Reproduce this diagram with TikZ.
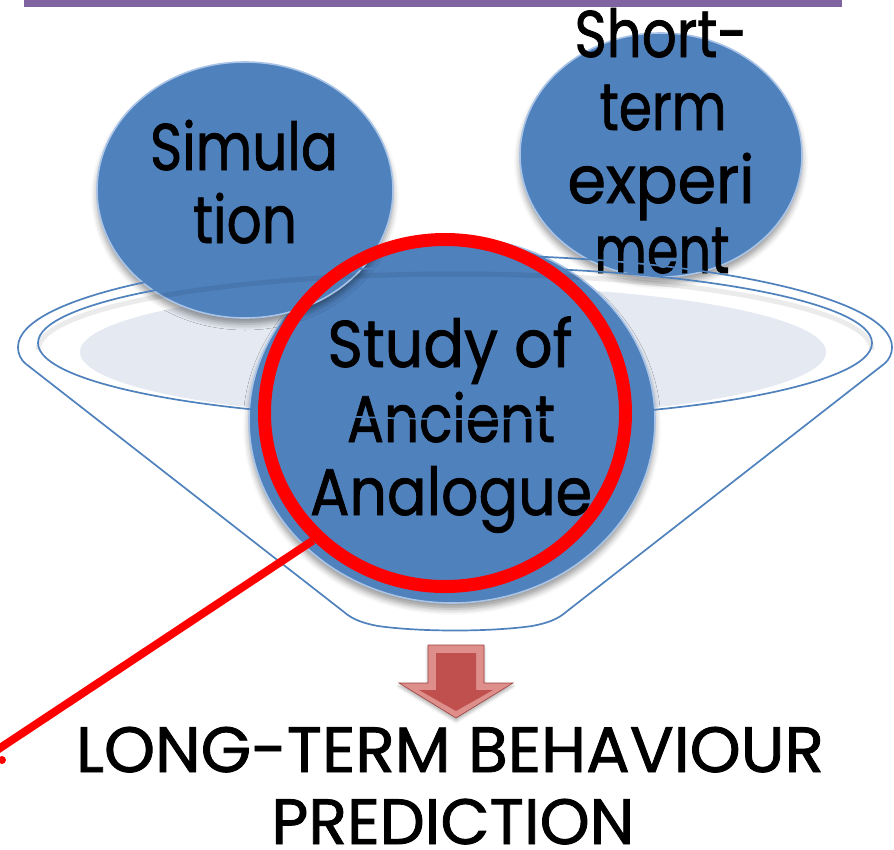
\documentclass[tikz,border=0pt]{standalone}
\usepackage{fontspec}
\setmainfont{Poppins}[FakeBold=1.3]
\usetikzlibrary{shapes.geometric,shadows.blur}
\definecolor{cblue}{HTML}{4F81BD}
\definecolor{cedge}{HTML}{A9C4E6}
\definecolor{rimfill}{HTML}{E4E9F2}
\definecolor{barpurple}{HTML}{8064A2}
\definecolor{arrowred}{HTML}{C0504D}
\definecolor{arrowlight}{HTML}{DE8E8B}
\definecolor{ringred}{HTML}{FF0000}
\newcommand{\fitw}[2]{\resizebox{#1pt}{\height}{#2}}
\begin{document}
\begin{tikzpicture}[x=1pt,y=-1pt,
  bubble/.style={ellipse, inner sep=0pt, fill=cblue, draw=cedge, line width=1.6pt,
    blur shadow={shadow xshift=0pt, shadow yshift=-6pt, shadow blur radius=6pt, shadow opacity=40}},
  lbl/.style={anchor=base, inner sep=0pt, font=\fontsize{66}{73}\selectfont, text=black},
  bigtxt/.style={anchor=base, inner sep=0pt, font=\fontsize{64}{73}\selectfont, text=black},
  rim/.style={draw=cblue, line width=1.7pt},
  rimshadow/.style={draw=black, opacity=0.08, line width=5pt},
  ring/.style={ellipse, inner sep=0pt, draw=ringred, line width=13pt}]
\useasboundingbox (0,0) rectangle (894,849);
\clip (0,0) rectangle (894,849);

% top bar
\fill[barpurple] (24,0) rectangle (842,7);

% light inside of the funnel rim
\fill[rimfill] (453,352) ellipse[x radius=373, y radius=66];

% funnel body (sides and bottom)
\draw[rim] (18,347) .. controls (18,353) and (20,359) .. (26,364)
  -- (344,612) .. controls (352,619) and (362,623) .. (378,626)
  .. controls (420,632) and (490,632) .. (532,626)
  .. controls (548,623) and (558,619) .. (566,612)
  -- (884,364) .. controls (890,359) and (892,353) .. (892,347);

% bubbles
\node[bubble, minimum width=406pt, minimum height=366pt] (big) at (452,420) {};
\node[bubble, minimum width=296pt, minimum height=256pt] (sim) at (245,190) {};
\node[bubble, minimum width=282pt, minimum height=244pt] (short) at (661,155) {};

% bubble texts
\node[lbl] (sim1) at (244,170) {\fitw{188}{Simula}};
\node[lbl] (sim2) at (245,243) {\fitw{104}{tion}};
\node[lbl] (sh1) at (661,57) {\fitw{173}{Short-}};
\node[lbl] (sh2) at (663,130) {\fitw{127}{term}};
\node[lbl] (sh3) at (661,203) {\fitw{187}{experi}};
\node[lbl] (sh4) at (662,273) {\fitw{135}{ment}};
\node[lbl] (st1) at (450,367) {\fitw{245}{Study of}};
\node[lbl] (st2) at (451,442) {\fitw{208}{Ancient}};
\node[lbl] (st3) at (451,515) {\fitw{282}{Analogue}};

% funnel rim (glass) over the bubbles
\draw[rimshadow] (38,350) arc[start angle=180, end angle=360, x radius=417, y radius=76];
\draw[rim] (18,347) arc[start angle=180, end angle=360, x radius=437, y radius=92];
\draw[rim] (455,343) ellipse[x radius=417, y radius=76];

% red highlight ring and pointer
\node[ring, minimum width=361pt, minimum height=347pt] (redring) at (445,413) {};
\coordinate (lineend) at (-6,752);
\draw[ringred, line width=8pt] (redring.224) -- (lineend);
\fill[ringred] (2,760) circle[radius=4];

% down arrow
\filldraw[fill=arrowlight, draw=arrowred!80!black, line width=0.6pt,
  blur shadow={shadow xshift=0pt, shadow yshift=-3pt, shadow blur radius=3pt, shadow opacity=30}]
  (428,645) -- (484,645) -- (484,683) -- (513,683) -- (456,718) -- (399,683) -- (428,683) -- cycle;
\fill[arrowred] (436,653) -- (476,653) -- (476,690) -- (493,690) -- (456,711) -- (419,690) -- (436,690) -- cycle;

% result text
\node[bigtxt] (res1) at (450,772) {\fitw{748}{LONG-TERM BEHAVIOUR}};
\node[bigtxt] (res2) at (453,844) {\fitw{363}{PREDICTION}};
\end{tikzpicture}
\end{document}
